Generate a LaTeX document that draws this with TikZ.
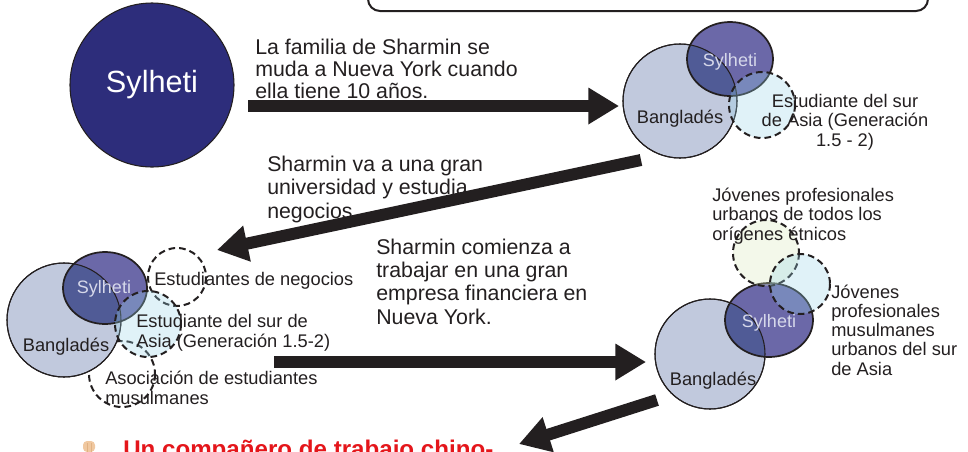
\documentclass[tikz,border=0pt]{standalone}
\usepackage{fontspec}
\setmainfont{Liberation Sans}
\usetikzlibrary{arrows.meta}
\definecolor{navy}{RGB}{45,45,123}
\definecolor{bangfill}{RGB}{193,201,221}
\definecolor{sylfill}{RGB}{107,104,168}
\definecolor{overfill}{RGB}{80,91,150}
\definecolor{syltext}{RGB}{214,216,234}
\definecolor{inkgray}{RGB}{35,31,32}
\definecolor{lbluefill}{RGB}{152,212,232}
\definecolor{lgreenfill}{RGB}{215,232,185}
\definecolor{redtext}{RGB}{228,22,27}
\definecolor{beige}{RGB}{240,200,160}
\begin{document}
\begin{tikzpicture}[x=0.75pt,y=-0.75pt,
  txt/.style={font=\fontsize{16}{16.5}\selectfont, text=inkgray, align=left, anchor=base west, inner sep=0pt},
  txtb/.style={txt, font=\fontsize{16}{17.3}\selectfont},
  lbl/.style={font=\fontsize{13.7}{14.4}\selectfont, text=inkgray, align=left, anchor=base west, inner sep=0pt},
  lblc/.style={lbl, align=center, anchor=base},
  syl/.style={font=\fontsize{13.5}{14.4}\selectfont, text=syltext, anchor=base, inner sep=0pt},
  bigarrow/.style={draw=inkgray, line width=9pt, -{Triangle[length=23pt,width=26pt]}},
  bangc/.style={fill=bangfill, draw=inkgray, line width=0.8pt},
  sylc/.style={fill=sylfill},
  syledge/.style={draw=inkgray, line width=1.3pt},
  dashc/.style={draw=inkgray, line width=1.5pt, dash pattern=on 5pt off 3pt},
  bluec/.style={dashc, fill=lbluefill, fill opacity=0.3},
  greenc/.style={dashc, fill=lgreenfill, fill opacity=0.3}
]
\useasboundingbox (0,0) rectangle (968,451);
\clip (0,0) rectangle (968,451);

% top rounded box
\draw[inkgray, line width=1.5pt, rounded corners=9pt] (368,-30) rectangle (928,11);

% big Sylheti circle
\fill[navy] (152,85) circle (82);
\draw[inkgray, line width=0.8pt] (152,85) circle (82);
\node[font=\fontsize{23}{23}\selectfont, text=white, inner sep=0pt] (bigsyl) at (152,85) {Sylheti};

% ---------- top-right Venn ----------
\path[bangc] (680,101) circle (57);
\fill[sylfill] (730,59) ellipse (43 and 37);
\begin{scope}
  \clip (680,101) circle (57);
  \fill[overfill] (730,59) ellipse (43 and 37);
\end{scope}
\draw[inkgray, line width=0.8pt] (680,101) circle (57);
\draw[syledge] (730,59) ellipse (43 and 37);
\path[bluec] (762,105) circle (33);
\node[lbl, anchor=base] (bang1) at (680,123) {Banglad\'es};
\node[syl] (syl1) at (730,66) {Sylheti};
\node[lblc] (est1) at (845,146) {Estudiante del sur\\de Asia (Generaci\'on\\1.5 - 2)};

% ---------- bottom-left Venn ----------
\draw[dashc] (122,374) circle (33);
\path[bangc] (64,320) circle (57);
\fill[sylfill] (105,288) ellipse (42 and 36);
\begin{scope}
  \clip (64,320) circle (57);
  \fill[overfill] (105,288) ellipse (42 and 36);
\end{scope}
\draw[inkgray, line width=0.8pt] (64,320) circle (57);
\draw[syledge] (105,288) ellipse (42 and 36);
\draw[dashc] (177,277) circle (29);
\path[bluec] (148,324) circle (33);
\node[lbl, anchor=base] (bang2) at (66,351) {Banglad\'es};
\node[syl] (syl2) at (104,293) {Sylheti};
\node[lbl] (neg2) at (154,285) {Estudiantes de negocios};
\node[lbl] (est2) at (136,347) {Estudiante del sur de\\Asia (Generaci\'on 1.5-2)};
\node[lbl] (aso2) at (105,404) {Asociaci\'on de estudiantes\\musulmanes};

% ---------- bottom-right Venn ----------
\path[bangc] (710,354) circle (55);
\fill[sylfill] (769,320) ellipse (44 and 37);
\begin{scope}
  \clip (710,354) circle (55);
  \fill[overfill] (769,320) ellipse (44 and 37);
\end{scope}
\draw[inkgray, line width=0.8pt] (710,354) circle (55);
\draw[syledge] (769,320) ellipse (44 and 37);
\path[greenc] (766,253) circle (33);
\path[bluec] (800,284) circle (30);
\node[lbl, anchor=base] (bang3) at (713,385) {Banglad\'es};
\node[syl] (syl3) at (769,327) {Sylheti};
\node[lbl] (jov3) at (712,240) {J\'ovenes profesionales\\urbanos de todos los\\or\'igenes \'etnicos};
\node[lbl] (mus3) at (831,375) {J\'ovenes\\profesionales\\musulmanes\\urbanos del sur\\de Asia};

% ---------- narrative texts ----------
\node[txt] (t1) at (255,98) {La familia de Sharmin se\\muda a Nueva York cuando\\ella tiene 10 a\~nos.};
\node[txtb] (t2) at (267,218) {Sharmin va a una gran\\universidad y estudia\\negocios.};
\node[txtb] (t3) at (376,324) {Sharmin comienza a\\trabajar en una gran\\empresa financiera en\\Nueva York.};

% ---------- arrows ----------
\coordinate (a1s) at (248,106);
\coordinate (a1e) at (619,106);
\coordinate (a2s) at (641,160);
\coordinate (a2e) at (217,250);
\coordinate (a3s) at (274,362);
\coordinate (a3e) at (646,362);
\coordinate (a4s) at (657,400);
\coordinate (a4e) at (519,444);
\draw[bigarrow] (a1s) -- (a1e);
\draw[bigarrow] (a2s) -- (a2e);
\draw[bigarrow] (a3s) -- (a3e);
\draw[bigarrow] (a4s) -- (a4e);

% ---------- bottom red text ----------
\fill[beige, rounded corners=3pt] (83,452) rectangle (95,441);
\draw[beige!70!brown, line width=0.4pt] (87,443) -- (87,452) (91,443) -- (91,452);
\node[font=\bfseries\fontsize{18.1}{18.1}\selectfont, text=redtext, anchor=base west, inner sep=0pt] (red) at (123,457) {Un compa\~nero de trabajo chino-};
\end{tikzpicture}
\end{document}
